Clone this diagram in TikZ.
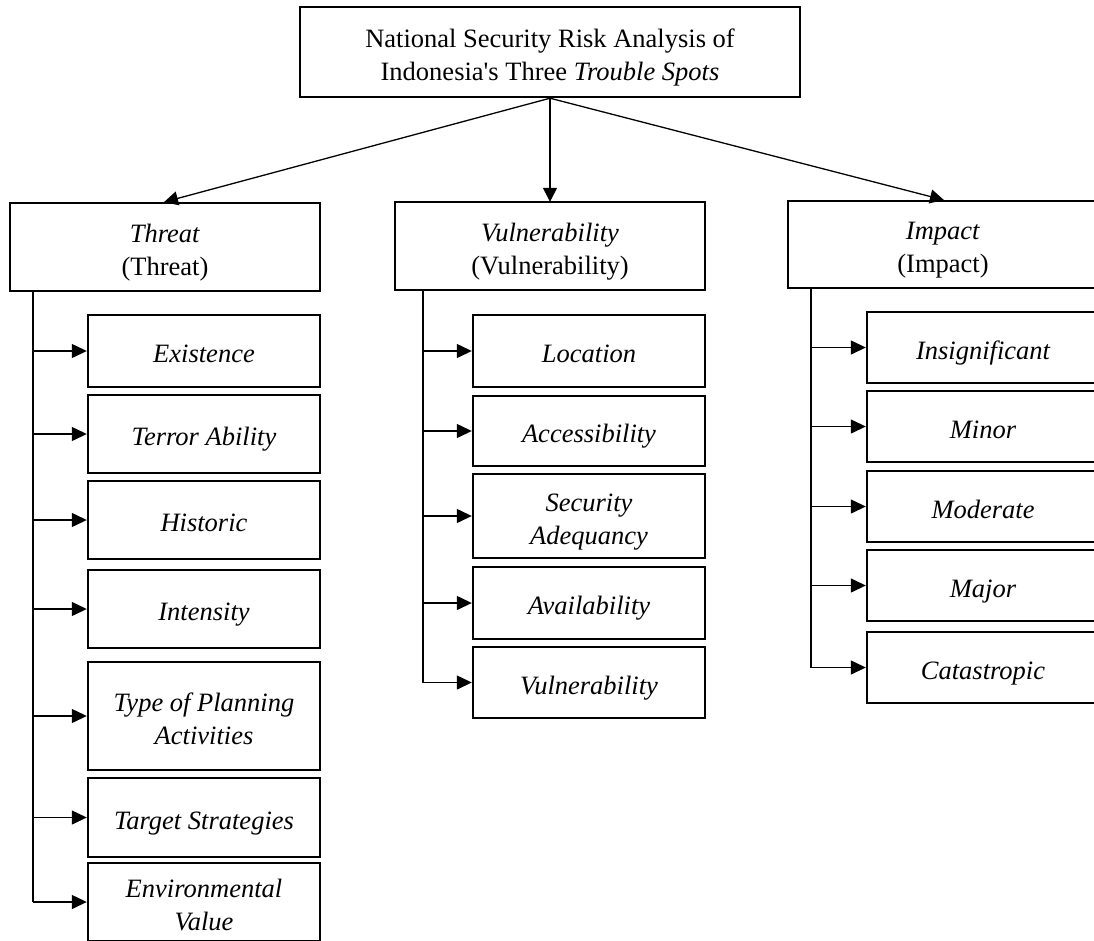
\documentclass[tikz,border=0pt]{standalone}
\usepackage{fontspec}
\setmainfont{Liberation Serif}[Ligatures=TeXOff]
\usetikzlibrary{arrows.meta,calc}
\newcommand\boxtext[1]{\begin{tabular}{@{}c@{}}\rule{0pt}{33pt}#1\end{tabular}}
\begin{document}
\begin{tikzpicture}[x=1pt,y=-1pt,
  box/.style={draw, line width=2.4pt, inner sep=0pt, anchor=center,
    font=\fontsize{26.5}{33}\selectfont},
  topbox/.style={box, minimum width=500pt, minimum height=90pt},
  catbox/.style={box, minimum width=310pt, minimum height=88pt},
  subbox/.style={box, minimum width=232pt, font=\fontsize{26.5}{33}\selectfont\itshape},
  conn/.style={line width=1.3pt},
  arr/.style={line width=1.3pt, -{Triangle[length=15pt,width=14pt]}},
  toparr/.style={line width=1.3pt, -{Triangle[length=14pt,width=14pt]}, shorten >=-1pt}
]
\useasboundingbox (0,0) rectangle (1094,940);
\clip (0,0) rectangle (1094,940);
\fill[white] (0,0) rectangle (1094,940);

% title
\node[topbox] (title) at (550,52) {\boxtext{National Security Risk Analysis of\\Indonesia's Three \textit{Trouble Spots}}};

% categories
\node[catbox] (threat) at (165,247) {\boxtext{\textit{Threat}\\(Threat)}};
\node[catbox] (vuln) at (550,246) {\boxtext{\textit{Vulnerability}\\(Vulnerability)}};
\node[catbox, minimum height=87pt] (impact) at (943,244.5) {\boxtext{\textit{Impact}\\(Impact)}};

\draw[toparr] (title.south) -- (threat.north);
\draw[toparr] (title.south) -- (vuln.north);
\draw[toparr] (title.south) -- (impact.north);

% threat items
\node[subbox, minimum height=72pt] (t1) at (204,351) {\boxtext{Existence}};
\node[subbox, minimum height=78pt] (t2) at (204,434) {\boxtext{Terror Ability}};
\node[subbox, minimum height=78pt] (t3) at (204,520) {\boxtext{Historic}};
\node[subbox, minimum height=78pt] (t4) at (204,609) {\boxtext{Intensity}};
\node[subbox, minimum height=108pt] (t5) at (204,716) {\boxtext{Type of Planning\\Activities}};
\node[subbox, minimum height=79pt] (t6) at (204,817.5) {\boxtext{Target Strategies}};
\node[subbox, minimum height=78pt] (t7) at (204,902) {\boxtext{Environmental\\Value}};

% vulnerability items
\node[subbox, minimum height=72pt] (v1) at (589,351) {\boxtext{Location}};
\node[subbox, minimum height=70pt] (v2) at (589,431) {\boxtext{Accessibility}};
\node[subbox, minimum height=84pt] (v3) at (589,516) {\boxtext{Security\\Adequancy}};
\node[subbox, minimum height=72pt] (v4) at (589,603) {\boxtext{Availability}};
\node[subbox, minimum height=71pt] (v5) at (589,682.5) {\boxtext{Vulnerability}};

% impact items
\node[subbox, minimum height=71pt] (i1) at (983,347.5) {\boxtext{Insignificant}};
\node[subbox, minimum height=71pt] (i2) at (983,426.5) {\boxtext{Minor}};
\node[subbox, minimum height=71pt] (i3) at (983,506.5) {\boxtext{Moderate}};
\node[subbox, minimum height=71pt] (i4) at (983,585.5) {\boxtext{Major}};
\node[subbox, minimum height=71pt] (i5) at (983,667.5) {\boxtext{Catastropic}};

% spines
\coordinate (tx) at (33,0);
\coordinate (vx) at (423,0);
\coordinate (ix) at (811,0);

\draw[conn] (tx |- threat.south) -- (tx |- t7.west);
\foreach \n in {t1,t2,t3,t4,t5,t6,t7}
  \draw[arr] (tx |- \n.west) -- (\n.west);

\draw[conn] (vx |- vuln.south) -- (vx |- v5.west);
\foreach \n in {v1,v2,v3,v4,v5}
  \draw[arr] (vx |- \n.west) -- (\n.west);

\draw[conn] (ix |- impact.south) -- (ix |- i5.west);
\foreach \n in {i1,i2,i3,i4,i5}
  \draw[arr] (ix |- \n.west) -- (\n.west);
\end{tikzpicture}
\end{document}
